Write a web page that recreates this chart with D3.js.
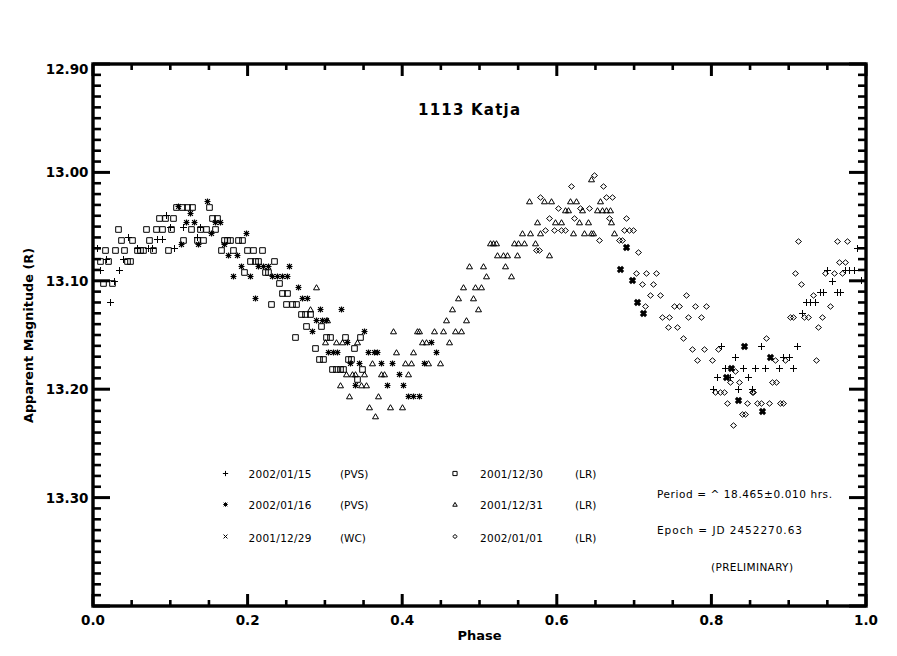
<!DOCTYPE html>
<html><head><meta charset="utf-8">
<script src="https://cdn.jsdelivr.net/npm/d3@7"></script>
<style>body{margin:0;background:#fff}</style>
</head><body>
<svg id="c" width="897" height="656"></svg>
<script>
// ---------------- data ----------------
const chartTitle = "1113 Katja";
const xTitle = "Phase";
const yTitle = "Apparent Magnitude (R)";
const xMajor = [0, 0.2, 0.4, 0.6, 0.8, 1.0];
const xMajorLabels = ["0.0", "0.2", "0.4", "0.6", "0.8", "1.0"];
const yMajor = [12.9, 13.0, 13.1, 13.2, 13.3];
const yMajorLabels = ["12.90", "13.00", "13.10", "13.20", "13.30"];

const seriesDates = ["2002/01/15", "2002/01/16", "2001/12/29", "2001/12/30", "2001/12/31", "2002/01/01"];
const seriesObs = ["(PVS)", "(PVS)", "(WC)", "(LR)", "(LR)", "(LR)"];
const seriesSymbols = ["plus", "asterisk", "x", "square", "triangle", "diamond"];

const notes = ["Period = ^ 18.465\u00b10.010 hrs.", "Epoch = JD 2452270.63", "(PRELIMINARY)"];

// [phase, magnitude]
const d20020115 = [
[0.005,13.070],[0.017,13.080],[0.009,13.090],[0.033,13.090],[0.027,13.100],[0.022,13.120],[0.039,13.080],
[0.045,13.060],[0.057,13.070],[0.071,13.070],[0.076,13.070],[0.083,13.061],[0.089,13.061],[0.094,13.039],
[0.100,13.050],[0.105,13.070],[0.116,13.050],[0.134,13.060],[0.139,13.050],
[0.989,13.070],[0.994,13.099],[0.950,13.090],[0.973,13.090],[0.978,13.090],[0.984,13.090],[0.956,13.100],
[0.940,13.110],[0.945,13.110],[0.962,13.110],[0.967,13.110],[0.922,13.120],[0.928,13.120],[0.934,13.120],
[0.917,13.130],[0.813,13.160],[0.864,13.160],[0.911,13.160],[0.830,13.170],[0.893,13.170],[0.900,13.170],
[0.818,13.180],[0.841,13.180],[0.857,13.180],[0.869,13.180],[0.887,13.180],[0.905,13.180],[0.807,13.189],
[0.824,13.189],[0.847,13.189],[0.835,13.200],[0.853,13.200],[0.802,13.200]
];
const d20020116 = [
[0.147,13.026],[0.110,13.031],[0.125,13.037],[0.120,13.046],[0.131,13.046],[0.158,13.046],[0.164,13.046],
[0.153,13.056],[0.198,13.056],[0.114,13.066],[0.136,13.066],[0.169,13.066],[0.175,13.076],[0.186,13.076],
[0.191,13.086],[0.214,13.086],[0.220,13.086],[0.226,13.086],[0.254,13.086],[0.181,13.096],[0.203,13.096],
[0.231,13.096],[0.238,13.096],[0.244,13.096],[0.251,13.096],[0.265,13.106],[0.210,13.116],[0.271,13.116],
[0.277,13.116],[0.294,13.126],[0.321,13.126],[0.288,13.136],[0.296,13.136],[0.302,13.136],[0.283,13.146],
[0.351,13.146],[0.328,13.156],[0.437,13.156],[0.304,13.166],[0.311,13.166],[0.316,13.166],[0.356,13.166],
[0.363,13.166],[0.368,13.166],[0.444,13.166],[0.332,13.176],[0.344,13.176],[0.373,13.176],[0.387,13.176],
[0.428,13.176],[0.396,13.186],[0.339,13.196],[0.380,13.196],[0.401,13.196],[0.408,13.206],[0.414,13.206],
[0.422,13.206]
];
const d20011229 = [
[0.690,13.069],[0.682,13.089],[0.697,13.099],[0.704,13.120],[0.711,13.130],[0.842,13.160],[0.876,13.170],
[0.826,13.180],[0.819,13.189],[0.834,13.210],[0.866,13.220]
];
const d20011230 = [
[0.032,13.052],[0.013,13.102],[0.024,13.102],[0.016,13.072],[0.028,13.072],[0.040,13.072],[0.036,13.062],
[0.050,13.062],[0.073,13.062],[0.069,13.052],[0.081,13.052],[0.089,13.052],[0.101,13.052],[0.085,13.042],
[0.093,13.042],[0.104,13.042],[0.108,13.032],[0.115,13.032],[0.121,13.032],[0.128,13.032],[0.150,13.032],
[0.154,13.042],[0.161,13.042],[0.158,13.052],[0.138,13.052],[0.146,13.052],[0.127,13.052],[0.116,13.062],
[0.134,13.062],[0.142,13.062],[0.097,13.072],[0.077,13.072],[0.065,13.072],[0.057,13.072],[0.061,13.072],
[0.169,13.062],[0.173,13.062],[0.177,13.062],[0.188,13.062],[0.193,13.062],[0.165,13.072],[0.181,13.072],
[0.199,13.072],[0.207,13.072],[0.218,13.072],[0.203,13.082],[0.210,13.082],[0.214,13.082],[0.234,13.082],
[0.222,13.092],[0.226,13.092],[0.195,13.092],[0.241,13.102],[0.230,13.121],[0.009,13.082],[0.020,13.082],
[0.044,13.082],[0.048,13.082],[0.245,13.111],[0.251,13.111],[0.250,13.121],[0.257,13.121],[0.263,13.121],
[0.269,13.131],[0.274,13.131],[0.281,13.131],[0.276,13.142],[0.295,13.142],[0.261,13.152],[0.301,13.152],
[0.307,13.152],[0.326,13.152],[0.345,13.152],[0.287,13.162],[0.338,13.162],[0.292,13.172],[0.298,13.172],
[0.330,13.172],[0.334,13.172],[0.309,13.181],[0.314,13.181],[0.320,13.181],[0.324,13.181],[0.348,13.181],
[0.341,13.191]
];
const d20011231 = [
[0.288,13.106],[0.281,13.126],[0.303,13.136],[0.300,13.156],[0.315,13.156],[0.322,13.156],[0.341,13.156],
[0.361,13.176],[0.327,13.186],[0.335,13.186],[0.339,13.186],[0.350,13.186],[0.373,13.186],[0.377,13.186],
[0.407,13.186],[0.319,13.196],[0.347,13.196],[0.353,13.196],[0.331,13.206],[0.369,13.206],[0.357,13.216],
[0.384,13.216],[0.400,13.216],[0.365,13.225],[0.392,13.166],[0.414,13.166],[0.403,13.176],[0.411,13.176],
[0.434,13.176],[0.449,13.176],[0.425,13.156],[0.431,13.156],[0.461,13.156],[0.388,13.146],[0.419,13.146],
[0.422,13.146],[0.441,13.146],[0.453,13.146],[0.468,13.146],[0.476,13.146],[0.457,13.136],[0.483,13.136],
[0.464,13.126],[0.498,13.126],[0.472,13.116],[0.491,13.116],[0.479,13.106],[0.494,13.106],[0.502,13.106],
[0.509,13.096],[0.541,13.096],[0.487,13.086],[0.505,13.086],[0.533,13.086],[0.523,13.076],[0.530,13.076],
[0.536,13.076],[0.548,13.076],[0.590,13.076],[0.513,13.065],[0.517,13.065],[0.521,13.065],[0.544,13.065],
[0.550,13.065],[0.557,13.065],[0.572,13.065],[0.555,13.056],[0.565,13.056],[0.578,13.056],[0.621,13.056],
[0.635,13.056],[0.644,13.056],[0.647,13.056],[0.674,13.056],[0.575,13.046],[0.598,13.046],[0.605,13.046],
[0.629,13.046],[0.640,13.046],[0.670,13.046],[0.611,13.035],[0.614,13.035],[0.632,13.035],[0.652,13.035],
[0.658,13.035],[0.664,13.035],[0.669,13.035],[0.564,13.026],[0.583,13.026],[0.593,13.026],[0.617,13.026],
[0.625,13.026],[0.656,13.026],[0.644,13.006]
];
const d20020101 = [
[0.648,13.002],[0.618,13.013],[0.660,13.013],[0.578,13.023],[0.664,13.023],[0.672,13.023],[0.602,13.033],
[0.630,13.033],[0.642,13.033],[0.590,13.042],[0.622,13.042],[0.667,13.042],[0.690,13.042],[0.585,13.053],
[0.596,13.053],[0.606,13.053],[0.611,13.053],[0.687,13.053],[0.694,13.053],[0.698,13.053],[0.655,13.062],
[0.680,13.062],[0.684,13.062],[0.573,13.072],[0.577,13.072],[0.705,13.073],[0.702,13.093],[0.716,13.093],
[0.728,13.093],[0.710,13.103],[0.724,13.103],[0.721,13.113],[0.733,13.113],[0.767,13.113],[0.714,13.123],
[0.752,13.123],[0.758,13.123],[0.779,13.123],[0.793,13.123],[0.736,13.133],[0.745,13.133],[0.770,13.133],
[0.786,13.133],[0.744,13.143],[0.755,13.143],[0.763,13.153],[0.775,13.163],[0.790,13.163],[0.808,13.163],
[0.782,13.173],[0.801,13.173],[0.831,13.183],[0.824,13.193],[0.836,13.193],[0.805,13.203],[0.811,13.203],
[0.816,13.203],[0.852,13.203],[0.854,13.203],[0.820,13.213],[0.846,13.213],[0.859,13.213],[0.864,13.213],
[0.875,13.213],[0.889,13.213],[0.893,13.213],[0.839,13.223],[0.843,13.223],[0.828,13.233],[0.878,13.193],
[0.884,13.193],[0.882,13.173],[0.895,13.173],[0.870,13.153],[0.935,13.173],[0.938,13.143],[0.943,13.133],
[0.902,13.133],[0.906,13.133],[0.920,13.133],[0.925,13.133],[0.954,13.123],[0.916,13.103],[0.931,13.113],
[0.908,13.093],[0.947,13.093],[0.958,13.093],[0.969,13.093],[0.965,13.083],[0.973,13.083],[0.912,13.063],
[0.962,13.063],[0.976,13.063]
];
const seriesData = [d20020115, d20020116, d20011229, d20011230, d20011231, d20020101];

// ---------------- drawing ----------------
const svg = d3.select("#c");
svg.append("rect").attr("width", 897).attr("height", 656).attr("fill", "#fff");

const x = d3.scaleLinear().domain([0, 1]).range([93, 866]);
const y = d3.scaleLinear().domain([12.9, 13.4]).range([64, 606]);

function symPath(type, cx, cy, k) {
  const p = d3.path();
  const r = 3.5 * k, a = 2.4 * k;
  switch (type) {
    case "plus":
      p.moveTo(cx - r, cy); p.lineTo(cx + r, cy);
      p.moveTo(cx, cy - r); p.lineTo(cx, cy + r); break;
    case "asterisk":
      p.moveTo(cx - 3 * k, cy); p.lineTo(cx + 3 * k, cy);
      p.moveTo(cx, cy - 3 * k); p.lineTo(cx, cy + 3 * k);
      p.moveTo(cx - a, cy - a); p.lineTo(cx + a, cy + a);
      p.moveTo(cx - a, cy + a); p.lineTo(cx + a, cy - a); break;
    case "x":
      p.moveTo(cx - 2.6 * k, cy - 2.6 * k); p.lineTo(cx + 2.6 * k, cy + 2.6 * k);
      p.moveTo(cx - 2.6 * k, cy + 2.6 * k); p.lineTo(cx + 2.6 * k, cy - 2.6 * k); break;
    case "square":
      p.rect(cx - 2.8 * k, cy - 2.8 * k, 5.6 * k, 5.6 * k); break;
    case "triangle":
      p.moveTo(cx - 3 * k, cy + 2.3 * k); p.lineTo(cx + 3 * k, cy + 2.3 * k);
      p.lineTo(cx, cy - 2.8 * k); p.closePath(); break;
    case "diamond":
      p.moveTo(cx, cy - 2.7 * k); p.lineTo(cx + 3 * k, cy);
      p.lineTo(cx, cy + 2.7 * k); p.lineTo(cx - 3 * k, cy); p.closePath(); break;
  }
  return p.toString();
}

// data points
const plot = svg.append("g");
seriesData.forEach((data, i) => {
  const type = seriesSymbols[i];
  plot.append("g").selectAll("path").data(data).join("path")
    .attr("d", d => symPath(type, Math.round(x(d[0])) + 0.5, Math.round(y(d[1])) + 0.5, 1))
    .attr("fill", "none")
    .attr("stroke", "#000")
    .attr("stroke-width", type === "x" ? 3 : (type === "asterisk" ? 1.2 : 1));
});

// frame
svg.append("rect").attr("x", x(0)).attr("y", y(12.9))
  .attr("width", x(1) - x(0)).attr("height", y(13.4) - y(12.9))
  .attr("fill", "none").attr("stroke", "#000").attr("stroke-width", 3.4);

// ticks
const ax = svg.append("g").attr("stroke", "#000").attr("stroke-width", 3);
const xMinor = d3.range(0, 21).map(i => i * 0.05).filter(v => Math.abs(v * 5 - Math.round(v * 5)) > 1e-6);
const yMinor = d3.range(0, 51).map(i => 12.9 + i * 0.01).filter((v, i) => i % 10 !== 0);
const xMajorAll = xMajor;
xMajorAll.forEach(v => {
  ax.append("line").attr("x1", x(v)).attr("x2", x(v)).attr("y1", y(12.9)).attr("y2", y(12.9) + 12);
  ax.append("line").attr("x1", x(v)).attr("x2", x(v)).attr("y1", y(13.4)).attr("y2", y(13.4) - 12);
});
xMinor.forEach(v => {
  ax.append("line").attr("x1", x(v)).attr("x2", x(v)).attr("y1", y(12.9)).attr("y2", y(12.9) + 6).attr("stroke-width", 2.6);
  ax.append("line").attr("x1", x(v)).attr("x2", x(v)).attr("y1", y(13.4)).attr("y2", y(13.4) - 6).attr("stroke-width", 2.6);
});
yMajor.concat([13.4]).forEach(v => {
  ax.append("line").attr("y1", y(v)).attr("y2", y(v)).attr("x1", x(0)).attr("x2", x(0) + 17);
  ax.append("line").attr("y1", y(v)).attr("y2", y(v)).attr("x1", x(1)).attr("x2", x(1) - 17);
});
yMinor.forEach(v => {
  ax.append("line").attr("y1", y(v)).attr("y2", y(v)).attr("x1", x(0)).attr("x2", x(0) + 8).attr("stroke-width", 2.6);
  ax.append("line").attr("y1", y(v)).attr("y2", y(v)).attr("x1", x(1)).attr("x2", x(1) - 8).attr("stroke-width", 2.6);
});

// tick labels
const bold = "'DejaVu Sans', sans-serif";
svg.append("g").selectAll("text").data(xMajor).join("text")
  .attr("x", d => x(d)).attr("y", 625)
  .attr("text-anchor", "middle").attr("font-family", bold).attr("font-weight", "bold")
  .attr("font-size", 13.5).text((d, i) => xMajorLabels[i]);
svg.append("g").selectAll("text").data(yMajor).join("text")
  .attr("x", 88.5).attr("y", d => Math.max(y(d) + 5, 73.5))
  .attr("text-anchor", "end").attr("font-family", bold).attr("font-weight", "bold")
  .attr("font-size", 13.5).text((d, i) => yMajorLabels[i]);

// axis titles
svg.append("text").attr("x", 479.5).attr("y", 640).attr("text-anchor", "middle")
  .attr("font-family", bold).attr("font-weight", "bold").attr("font-size", 13)
  .attr("textLength", 44).text(xTitle);
svg.append("text").attr("transform", "translate(33,335.5) rotate(-90)").attr("text-anchor", "middle")
  .attr("font-family", bold).attr("font-weight", "bold").attr("font-size", 13)
  .attr("textLength", 175).attr("lengthAdjust", "spacingAndGlyphs").text(yTitle);

// title
svg.append("text").attr("x", 469).attr("y", 114.5).attr("text-anchor", "middle")
  .attr("font-family", bold).attr("font-weight", "bold").attr("font-size", 15)
  .attr("textLength", 102).text(chartTitle);

// legend
const reg = "'DejaVu Sans', sans-serif";
const legCols = [{sx: 225, tx: 248.5, ox: 340}, {sx: 454.5, tx: 480, ox: 575}];
const legRows = [473, 504, 536];
const legBase = [477.5, 509, 542];
seriesDates.forEach((dt, i) => {
  const c = legCols[Math.floor(i / 3)], r = i % 3;
  svg.append("path").attr("d", symPath(seriesSymbols[i], c.sx + 0.5, legRows[r] + 0.5, 0.75))
    .attr("fill", "none").attr("stroke", "#000").attr("stroke-width", 1);
  svg.append("text").attr("x", c.tx).attr("y", legBase[r]).attr("font-family", reg)
    .attr("font-size", 10.5).attr("textLength", 63).text(dt);
  svg.append("text").attr("x", c.ox).attr("y", legBase[r]).attr("font-family", reg)
    .attr("font-size", 10.5).text(seriesObs[i]);
});

// notes
const noteX = [657, 657, 711];
const noteY = [497.5, 534, 570.5];
const noteW = [175, 145, 82];
notes.forEach((t, i) => {
  svg.append("text").attr("x", noteX[i]).attr("y", noteY[i]).attr("font-family", reg)
    .attr("font-size", 10.5).attr("textLength", noteW[i]).text(t);
});
</script>
</body></html>
